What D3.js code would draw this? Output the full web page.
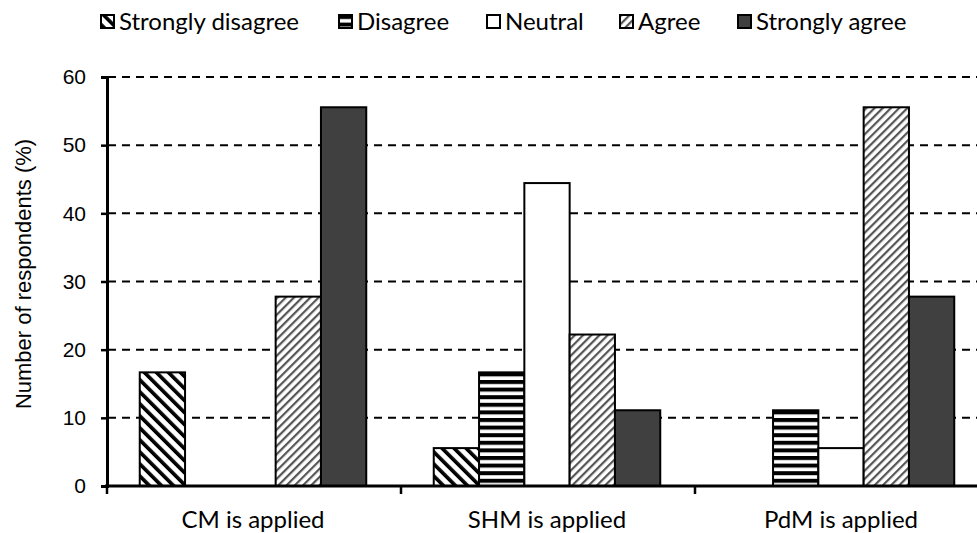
<!DOCTYPE html>
<html>
<head>
<meta charset="utf-8">
<script src="https://cdn.jsdelivr.net/npm/d3@7"></script>
<style>
  html, body { margin: 0; padding: 0; background: #fff; }
  svg { display: block; }
</style>
</head>
<body>
<svg id="chart" width="977" height="533"></svg>
<script>
// Survey responses per maintenance strategy (% of respondents)
const categories = ["CM is applied", "SHM is applied", "PdM is applied"];
const seriesNames = ["Strongly disagree", "Disagree", "Neutral", "Agree", "Strongly agree"];
const stronglyDisagree = [16.67, 5.56, 0];
const disagree = [0, 16.67, 11.11];
const neutral = [0, 44.44, 5.56];
const agree = [27.78, 22.22, 55.56];
const stronglyAgree = [55.56, 11.11, 27.78];
const yTicks = [0, 10, 20, 30, 40, 50, 60];

const seriesValues = [stronglyDisagree, disagree, neutral, agree, stronglyAgree];

const svg = d3.select("#chart");
const defs = svg.append("defs");

// Hatch fills
function diagPattern(id, spacing, thick, color, angle) {
  const p = defs.append("pattern")
    .attr("id", id)
    .attr("patternUnits", "userSpaceOnUse")
    .attr("width", spacing).attr("height", spacing)
    .attr("patternTransform", `rotate(${angle})`);
  p.append("rect").attr("width", spacing).attr("height", spacing).attr("fill", "#fff");
  p.append("rect").attr("x", 0).attr("y", 0).attr("width", thick).attr("height", spacing).attr("fill", color);
}
diagPattern("pat-sd", 8.5, 3.6, "#000", -45);
diagPattern("pat-a", 5.8, 2.2, "#555", 45);

const hp = defs.append("pattern")
  .attr("id", "pat-d")
  .attr("patternUnits", "userSpaceOnUse")
  .attr("width", 8).attr("height", 7.6);
hp.append("rect").attr("width", 8).attr("height", 7.6).attr("fill", "#fff");
hp.append("rect").attr("y", 0).attr("width", 8).attr("height", 4).attr("fill", "#000");

const fills = ["url(#pat-sd)", "url(#pat-d)", "#fff", "url(#pat-a)", "#404040"];

// Scales
const x0 = d3.scaleBand().domain(categories).range([106, 988]).paddingInner(0).paddingOuter(0);
const x1 = d3.scaleBand().domain(seriesNames).range([0, x0.bandwidth()]).paddingOuter(0.745).paddingInner(0);
const y = d3.scaleLinear().domain([0, 60]).range([486, 77]);

// Dashed gridlines
svg.append("g").selectAll("line")
  .data(yTicks.filter(d => d > 0))
  .join("line")
  .attr("x1", 108).attr("x2", 977)
  .attr("y1", d => y(d)).attr("y2", d => y(d))
  .attr("stroke", "#000")
  .attr("stroke-width", 2)
  .attr("stroke-dasharray", "8,6");

// Bars
const groups = svg.append("g").selectAll("g")
  .data(categories)
  .join("g")
  .attr("transform", d => `translate(${x0(d)},0)`);

groups.selectAll("rect")
  .data((c, ci) => seriesNames.map((s, si) => ({ s, si, v: seriesValues[si][ci] })).filter(d => d.v > 0))
  .join("rect")
  .attr("x", d => x1(d.s))
  .attr("width", x1.bandwidth())
  .attr("y", d => y(d.v))
  .attr("height", d => y(0) - y(d.v))
  .attr("fill", d => fills[d.si])
  .attr("stroke", "#000")
  .attr("stroke-width", 2);

// Y axis
const yAxis = svg.append("g")
  .attr("transform", "translate(107,0)")
  .call(d3.axisLeft(y).tickValues(yTicks).tickSize(6).tickPadding(15).tickFormat(d3.format("d")));
yAxis.select(".domain").attr("stroke", "#000").attr("stroke-width", 3);
yAxis.selectAll(".tick line").attr("stroke", "#000").attr("stroke-width", 2.5);
yAxis.selectAll(".tick text")
  .attr("font-family", "'Liberation Sans', Arial, sans-serif")
  .attr("font-size", 21)
  .attr("fill", "#000");

// X axis
const xAxis = svg.append("g")
  .attr("transform", "translate(0,486)");
xAxis.append("line")
  .attr("x1", 105).attr("x2", 977)
  .attr("y1", 0).attr("y2", 0)
  .attr("stroke", "#000").attr("stroke-width", 3);
xAxis.selectAll("line.sep")
  .data(categories)
  .join("line")
  .attr("class", "sep")
  .attr("x1", d => x0(d) + 1).attr("x2", d => x0(d) + 1)
  .attr("y1", 0).attr("y2", 8)
  .attr("stroke", "#000").attr("stroke-width", 2.5);
xAxis.selectAll("text")
  .data(categories)
  .join("text")
  .attr("x", d => x0(d) + x0.bandwidth() / 2)
  .attr("y", 42)
  .attr("text-anchor", "middle")
  .attr("font-family", "Lato, 'Open Sans', sans-serif")
  .attr("font-size", 24)
  .attr("fill", "#000")
  .text(d => d);

// Y axis title
svg.append("text")
  .attr("transform", "translate(31,274) rotate(-90)")
  .attr("text-anchor", "middle")
  .attr("font-family", "'Liberation Sans', Arial, sans-serif")
  .attr("font-size", 22)
  .attr("fill", "#000")
  .text("Number of respondents (%)");

// Legend
const legendX = [101, 339, 487, 620, 738];
const legend = svg.append("g").selectAll("g")
  .data(seriesNames)
  .join("g")
  .attr("transform", (d, i) => `translate(${legendX[i]},15)`);
legend.append("rect")
  .attr("width", 13).attr("height", 13)
  .attr("fill", (d, i) => fills[i])
  .attr("stroke", "#000").attr("stroke-width", 2);
legend.append("text")
  .attr("x", 18).attr("y", 15)
  .attr("font-family", "Lato, 'Open Sans', sans-serif")
  .attr("font-size", 24)
  .attr("fill", "#000")
  .text(d => d);
</script>
</body>
</html>
